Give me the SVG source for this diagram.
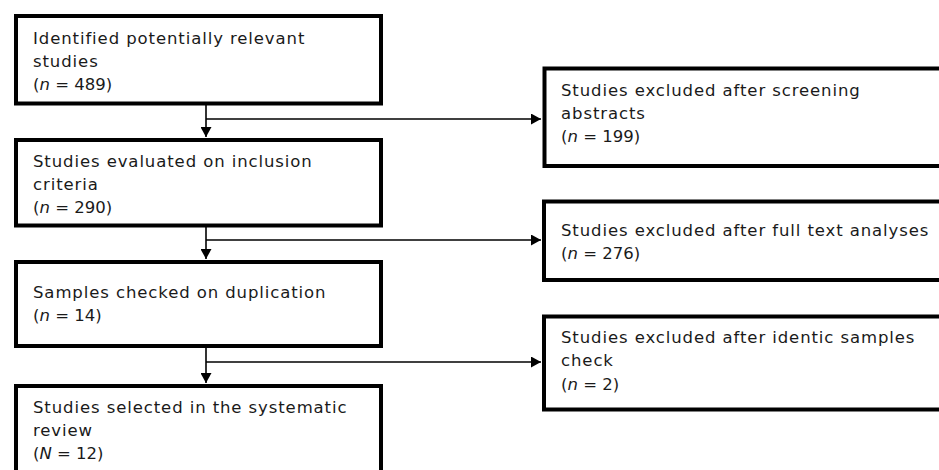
<svg xmlns="http://www.w3.org/2000/svg" width="939" height="470" viewBox="0 0 939 470">
<defs>
<style>
.box{fill:#fff;stroke:#000;stroke-width:4}
.t{font-family:"DejaVu Sans","Open Sans",sans-serif;font-size:16.5px;letter-spacing:0.9px;fill:#1a1a1a}
.c{letter-spacing:0}
.ln{stroke:#000;stroke-width:1.6;fill:none}
</style>
<marker id="ah" markerWidth="11" markerHeight="11" refX="10" refY="5.5" orient="auto" markerUnits="userSpaceOnUse">
<path d="M0,0 L10,5.5 L0,11 Z" fill="#000"/>
</marker>
</defs>
<rect width="939" height="470" fill="#fff"/>
<g id="connectors">
<path class="ln" d="M206,105 V137" marker-end="url(#ah)"/>
<path class="ln" d="M206,119 H541" marker-end="url(#ah)"/>
<path class="ln" d="M206,227 V259" marker-end="url(#ah)"/>
<path class="ln" d="M206,240 H541" marker-end="url(#ah)"/>
<path class="ln" d="M206,348 V383" marker-end="url(#ah)"/>
<path class="ln" d="M206,362 H541" marker-end="url(#ah)"/>
</g>
<g id="n1">
<rect class="box" x="16" y="16" width="365" height="87.5"/>
<text class="t" x="33" y="44">Identified potentially relevant</text>
<text class="t" x="33" y="67">studies</text>
<text class="t c" x="33" y="90">(<tspan font-style="italic">n</tspan> = 489)</text>
</g>
<g id="n2">
<rect class="box" x="16" y="140" width="365" height="85.5"/>
<text class="t" x="33" y="167">Studies evaluated on inclusion</text>
<text class="t" x="33" y="190">criteria</text>
<text class="t c" x="33" y="213">(<tspan font-style="italic">n</tspan> = 290)</text>
</g>
<g id="n3">
<rect class="box" x="16" y="262" width="365" height="84"/>
<text class="t" x="33" y="298">Samples checked on duplication</text>
<text class="t c" x="33" y="321">(<tspan font-style="italic">n</tspan> = 14)</text>
</g>
<g id="n4">
<rect class="box" x="16" y="386" width="365" height="100"/>
<text class="t" x="33" y="413">Studies selected in the systematic</text>
<text class="t" x="33" y="436">review</text>
<text class="t c" x="33" y="459">(<tspan font-style="italic">N</tspan> = 12)</text>
</g>
<g id="r1">
<rect class="box" x="544.5" y="68.5" width="410" height="97.5"/>
<text class="t" x="561" y="96">Studies excluded after screening</text>
<text class="t" x="561" y="119">abstracts</text>
<text class="t c" x="561" y="142">(<tspan font-style="italic">n</tspan> = 199)</text>
</g>
<g id="r2">
<rect class="box" x="544" y="201.5" width="410" height="78.5"/>
<text class="t" x="561" y="236">Studies excluded after full text analyses</text>
<text class="t c" x="561" y="259">(<tspan font-style="italic">n</tspan> = 276)</text>
</g>
<g id="r3">
<rect class="box" x="544" y="316.5" width="410" height="93"/>
<text class="t" x="561" y="343">Studies excluded after identic samples</text>
<text class="t" x="561" y="366">check</text>
<text class="t c" x="561" y="390">(<tspan font-style="italic">n</tspan> = 2)</text>
</g>
</svg>
